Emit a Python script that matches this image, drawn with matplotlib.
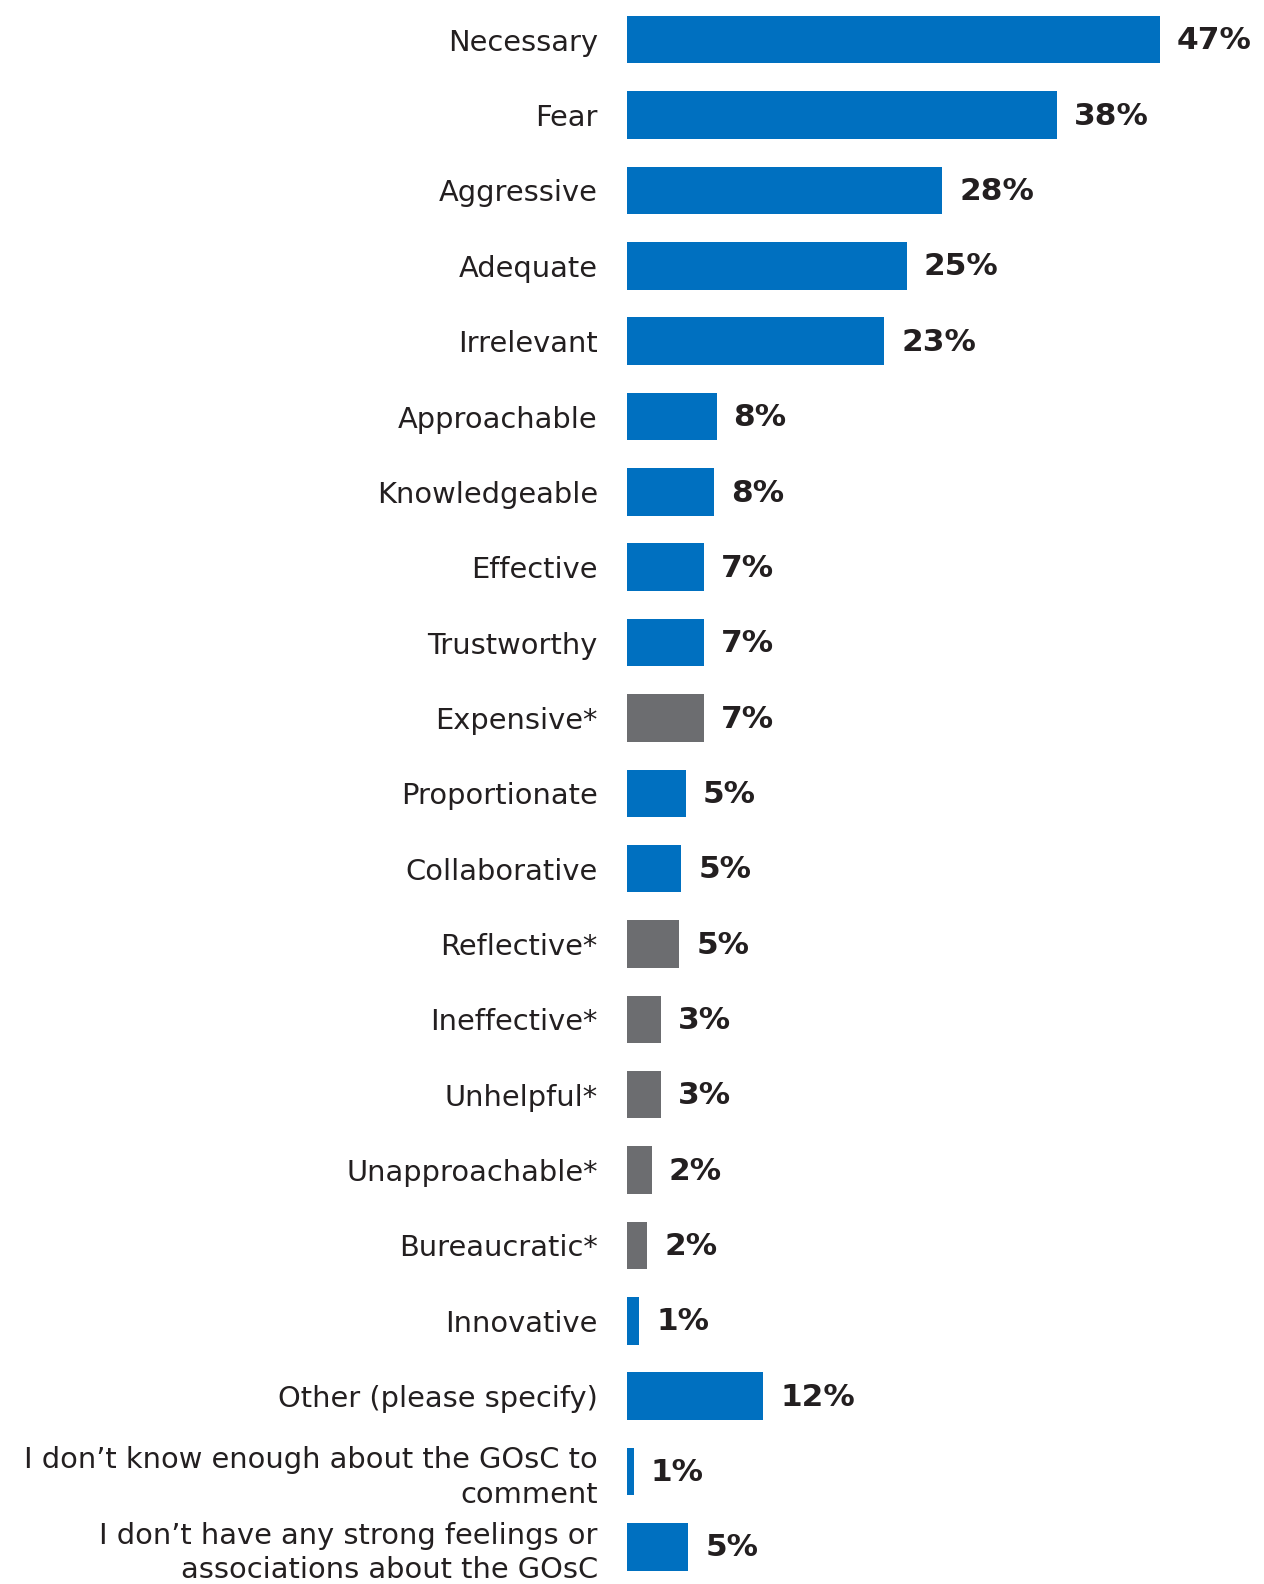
import matplotlib
matplotlib.use("Agg")
import matplotlib.pyplot as plt

# words respondents associate with the GOsC (% of respondents)
categories = [
    "Necessary", "Fear", "Aggressive", "Adequate", "Irrelevant",
    "Approachable", "Knowledgeable", "Effective", "Trustworthy", "Expensive*",
    "Proportionate", "Collaborative", "Reflective*", "Ineffective*", "Unhelpful*",
    "Unapproachable*", "Bureaucratic*", "Innovative", "Other (please specify)",
    "I don\u2019t know enough about the GOsC to\ncomment",
    "I don\u2019t have any strong feelings or\nassociations about the GOsC",
]
values = [47.0, 37.9, 27.8, 24.7, 22.7,
          7.9, 7.7, 6.8, 6.8, 6.8,
          5.2, 4.8, 4.6, 3.0, 3.0,
          2.2, 1.8, 1.1, 12.0, 0.6, 5.4]
# unprompted words (asterisked) are shown in grey
prompted = [True] * 9 + [False] + [True, True] + [False] * 5 + [True] * 4

BLUE = "#0070C0"
GREY = "#6C6D70"
TEXT = "#231F20"

fig = plt.figure(figsize=(12.64, 15.84), dpi=100)
ax = fig.add_axes([627 / 1264, -0.5 / 1584, 637 / 1264, 0.999])

ypos = list(range(len(categories)))
colors = [BLUE if p else GREY for p in prompted]
ax.barh(ypos, values, height=0.63, color=colors)

for y, v in zip(ypos, values):
    ax.text(v + 1.5, y + 0.015, "{:.0f}%".format(v), va="center", ha="left",
            fontsize=22.5, fontweight="bold", color=TEXT)

ax.set_xlim(0, 56.2)
ax.set_ylim(20.5, -0.5)
ax.set_yticks(ypos)
ax.set_yticklabels(categories, fontsize=20.8, color=TEXT)
for lab in ax.get_yticklabels():
    lab.set_linespacing(1.28)
ax.tick_params(axis="y", length=0, pad=21)
ax.set_xticks([])
for s in ax.spines.values():
    s.set_visible(False)

fig.savefig("out.png", dpi=100)
